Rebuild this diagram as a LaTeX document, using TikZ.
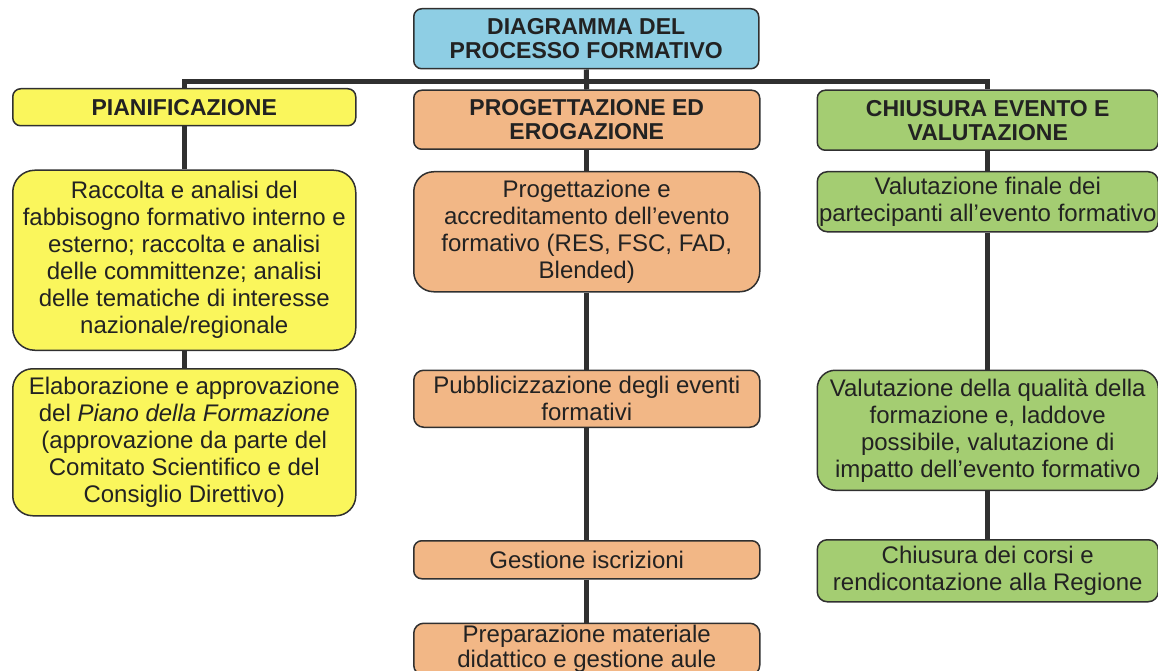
\documentclass[tikz,border=0pt]{standalone}
\usepackage{fontspec}
\setmainfont{Liberation Sans}
\usetikzlibrary{positioning}

\definecolor{titleblue}{RGB}{142,206,228}
\definecolor{planyellow}{RGB}{250,246,92}
\definecolor{designorange}{RGB}{242,183,134}
\definecolor{closegreen}{RGB}{164,205,114}
\definecolor{boxline}{RGB}{48,48,48}
\definecolor{textdark}{RGB}{34,34,34}

\tikzset{
  box/.style={draw=boxline, line width=1.5pt, rounded corners=8pt, anchor=north west, align=center, text=textdark, inner sep=1pt, font=\fontsize{24}{27}\selectfont},
  headbox/.style={box, font=\fontsize{23}{24}\selectfont\bfseries},
  link/.style={draw=boxline, line width=5pt},
}

\begin{document}
\begin{tikzpicture}[x=1pt,y=-1pt]
\useasboundingbox (0,0) rectangle (1158,671);

% titolo e intestazioni
\node [headbox, fill=titleblue, minimum width=345pt, minimum height=60pt] (title) at (413,8) {DIAGRAMMA DEL\\PROCESSO FORMATIVO};
\node [headbox, fill=planyellow, minimum width=343pt, minimum height=37pt] (planhead) at (12,88) {PIANIFICAZIONE};
\node [headbox, fill=designorange, minimum width=346pt, minimum height=59pt] (designhead) at ([yshift=-20pt]title.south west) {PROGETTAZIONE ED\\EROGAZIONE};
\node [headbox, fill=closegreen, minimum width=341pt, minimum height=60pt] (closehead) at ([xshift=56pt]designhead.north east) {CHIUSURA EVENTO E\\VALUTAZIONE};

% pianificazione
\node [box, fill=planyellow, rounded corners=22pt, minimum width=343pt, minimum height=180pt] (plan1) at ([yshift=-43pt]planhead.south west) {Raccolta e analisi del\\fabbisogno formativo interno e\\esterno; raccolta e analisi\\delle committenze; analisi\\delle tematiche di interesse\\nazionale/regionale};
\node [box, fill=planyellow, rounded corners=20pt, minimum width=343pt, minimum height=147pt] (plan2) at ([yshift=-17pt]plan1.south west) {Elaborazione e approvazione\\del \textit{Piano della Formazione}\\(approvazione da parte del\\Comitato Scientifico e del\\Consiglio Direttivo)};

% progettazione ed erogazione
\node [box, fill=designorange, rounded corners=20pt, minimum width=346pt, minimum height=120pt] (design1) at ([yshift=-21pt]designhead.south west) {Progettazione e\\accreditamento dell’evento\\formativo (RES, FSC, FAD,\\Blended)};
\node [box, fill=designorange, rounded corners=10pt, minimum width=346pt, minimum height=57pt] (design2) at ([yshift=-77pt]design1.south west) {Pubblicizzazione degli eventi\\formativi};
\node [box, fill=designorange, minimum width=346pt, minimum height=38pt] (design3) at ([yshift=-112pt]design2.south west) {Gestione iscrizioni};
\node [box, fill=designorange, rounded corners=10pt, minimum width=346pt, minimum height=52pt, font=\fontsize{24}{25}\selectfont] (design4) at ([yshift=-43pt]design3.south west) {Preparazione materiale\\didattico e gestione aule};

% chiusura e valutazione
\node [box, fill=closegreen, rounded corners=10pt, minimum width=341pt, minimum height=60pt] (close1) at ([yshift=-20pt]closehead.south west) {Valutazione finale dei\\partecipanti all’evento formativo};
\node [box, fill=closegreen, rounded corners=18pt, minimum width=341pt, minimum height=120pt] (close2) at ([yshift=-137pt]close1.south west) {Valutazione della qualità della\\formazione e, laddove\\possibile, valutazione di\\impatto dell’evento formativo};
\node [box, fill=closegreen, rounded corners=10pt, minimum width=341pt, minimum height=62pt] (close3) at ([yshift=-48pt]close2.south west) {Chiusura dei corsi e\\rendicontazione alla Regione};

% collegamenti
\coordinate (bar) at ([yshift=-12pt]title.south);
\draw [link] (title.south) -- (designhead.north);
\draw [link] (planhead.north) |- (bar) -| (closehead.north);
\foreach \a/\b in {planhead/plan1, plan1/plan2, designhead/design1, design1/design2, design2/design3, design3/design4, closehead/close1, close1/close2, close2/close3}
  \draw [link] (\a.south) -- (\b.north);
\end{tikzpicture}
\end{document}
